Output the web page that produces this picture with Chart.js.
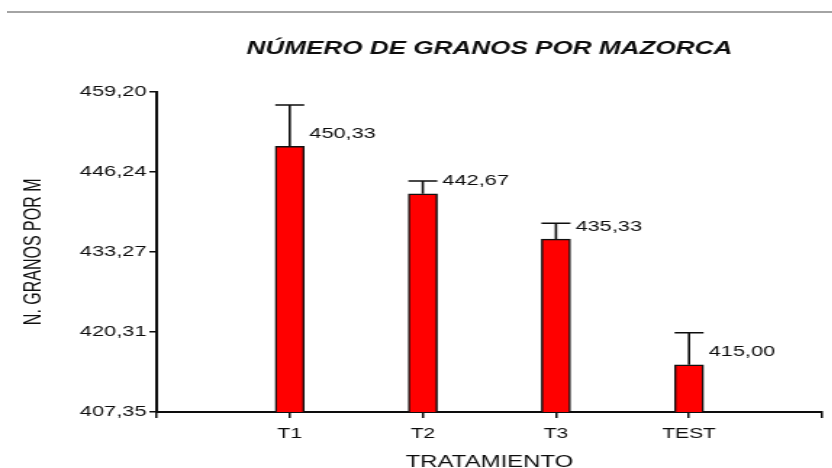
<!DOCTYPE html>
<html>
<head>
<meta charset="utf-8">
<script src="https://cdn.jsdelivr.net/npm/chart.js@4.4.1/dist/chart.umd.min.js"></script>
<style>
  html, body { margin: 0; padding: 0; background: #ffffff; overflow: hidden; }
  #wrap { position: relative; width: 832px; height: 468px; }
  #rule { position: absolute; top: 11px; left: 7px; width: 825px; height: 2px; background: #a4a4a4; z-index: 2; }
  #c { position: absolute; left: 0; top: 0; width: 574px; height: 468px; transform: scaleX(1.45); transform-origin: 0 0; }
</style>
</head>
<body>
<div id="wrap">
  <div id="rule"></div>
  <canvas id="c" width="574" height="468"></canvas>
</div>
<script>
// ---- data ----
const categories = ['T1', 'T2', 'T3', 'TEST'];
const meanValues = [450.33, 442.67, 435.33, 415.00];
const errorValues = [6.7, 2.06, 2.56, 5.18];
const yTickLabels = ['407,35', '420,31', '433,27', '446,24', '459,20'];
const chartTitle = 'NÚMERO DE GRANOS POR MAZORCA';
const xAxisTitle = 'TRATAMIENTO';
const yAxisTitle = 'N. GRANOS POR M';

// ---- derived structures for the library ----
const yTickValues = yTickLabels.map(s => parseFloat(s.replace(',', '.')));
const labels = [''].concat(categories, ['']);
const barData = [null].concat(meanValues, [null]);
const errData = [null].concat(errorValues, [null]);
const fmt = v => v.toFixed(2).replace('.', ',');

const FONT = '"Liberation Sans", Arial, sans-serif';
const INK = '#0d0d0d';

const errorBarPlugin = {
  id: 'errorBars',
  afterDatasetsDraw(chart) {
    const meta = chart.getDatasetMeta(0);
    const ys = chart.scales.y;
    const ctx = chart.ctx;
    ctx.save();
    meta.data.forEach((bar, i) => {
      const v = barData[i];
      if (v == null) return;
      const top = ys.getPixelForValue(v + errData[i]);
      const half = bar.width / 2;
      ctx.strokeStyle = INK;
      ctx.lineWidth = 1.6;
      ctx.beginPath();
      ctx.moveTo(bar.x, bar.y);
      ctx.lineTo(bar.x, top);
      ctx.moveTo(bar.x - half, top);
      ctx.lineTo(bar.x + half, top);
      ctx.stroke();
      ctx.fillStyle = INK;
      ctx.font = '15px ' + FONT;
      ctx.textAlign = 'left';
      ctx.textBaseline = 'middle';
      ctx.fillText(fmt(v), bar.x + 13.5, bar.y - 12.5);
    });
    ctx.restore();
  }
};

new Chart(document.getElementById('c'), {
  type: 'bar',
  data: {
    labels: labels,
    datasets: [{
      data: barData,
      backgroundColor: '#ff0000',
      borderColor: '#111111',
      borderWidth: 1.5,
      barThickness: 20
    }]
  },
  plugins: [errorBarPlugin],
  options: {
    responsive: false,
    animation: false,
    devicePixelRatio: 1,
    layout: { padding: { left: 0, right: 6, top: 0, bottom: 0 } },
    plugins: {
      legend: { display: false },
      tooltip: { enabled: false },
      title: {
        display: true,
        text: chartTitle,
        fullSize: false,
        color: INK,
        font: { family: FONT, size: 18, weight: 'bold', style: 'italic' },
        padding: { top: 38, bottom: 32 }
      }
    },
    scales: {
      x: {
        type: 'category',
        offset: false,
        afterFit(scale) { scale.height = 56; },
        grid: { display: true, offset: false, drawOnChartArea: false, drawTicks: true, tickLength: 6, color: INK, lineWidth: 1.5 },
        border: { display: true, color: INK, width: 2 },
        ticks: { color: INK, padding: 7, font: { family: FONT, size: 14.5 }, maxRotation: 0, autoSkip: false },
        title: {
          display: true,
          text: xAxisTitle,
          color: INK,
          font: { family: FONT, size: 16.5, lineHeight: 1 },
          padding: { top: 0, bottom: -2.5 }
        }
      },
      y: {
        type: 'linear',
        min: yTickValues[0],
        max: yTickValues[yTickValues.length - 1],
        afterFit(scale) { scale.width = 108; },
        afterBuildTicks(scale) { scale.ticks = yTickValues.map(v => ({ value: v })); },
        grid: { display: true, drawOnChartArea: false, drawTicks: true, tickLength: 5, color: INK, lineWidth: 1.5 },
        border: { display: true, color: INK, width: 2 },
        ticks: {
          color: INK,
          padding: 2,
          font: { family: FONT, size: 15 },
          callback(value) {
            const idx = yTickValues.findIndex(t => Math.abs(t - value) < 1e-6);
            return idx >= 0 ? yTickLabels[idx] : '';
          }
        },
        title: {
          display: true,
          text: yAxisTitle,
          color: INK,
          font: { family: FONT, size: 16 },
          padding: { top: 14.4, bottom: 0 }
        }
      }
    }
  }
});
</script>
</body>
</html>
